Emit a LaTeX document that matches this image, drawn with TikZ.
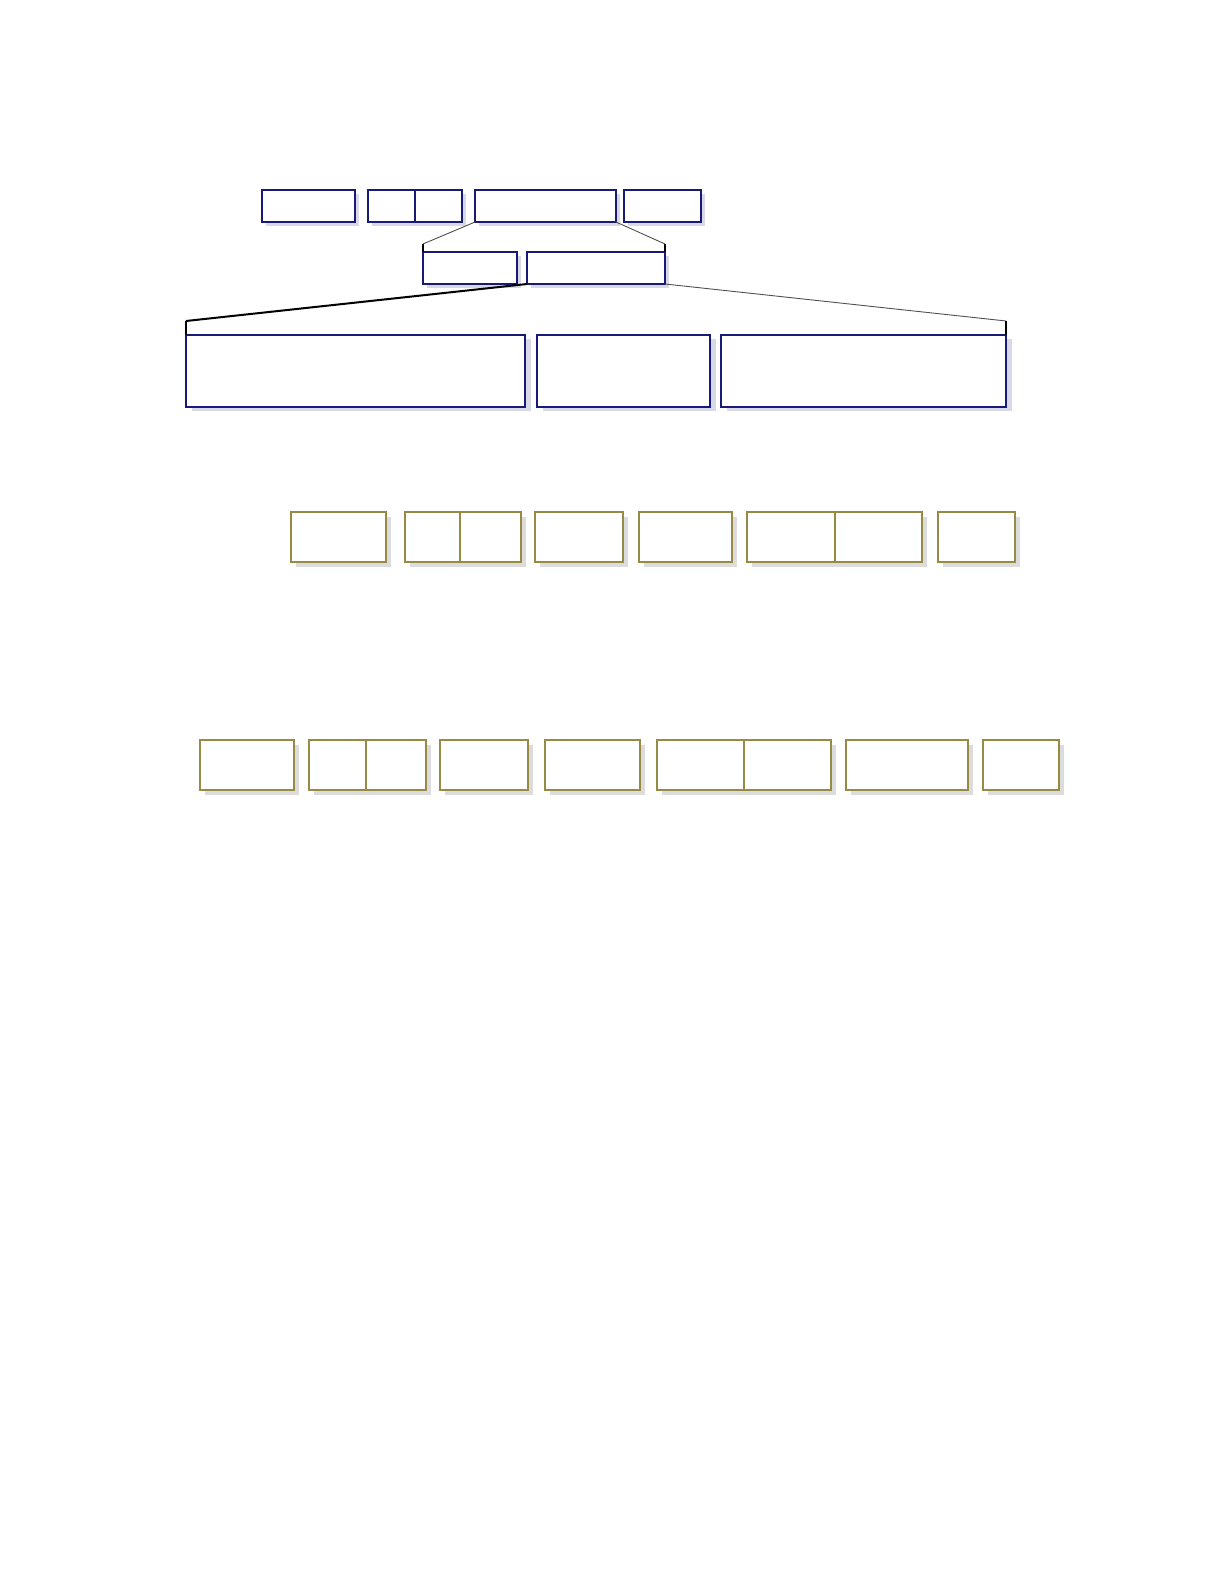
\documentclass[tikz,border=0pt]{standalone}
\usetikzlibrary{shadows}
\definecolor{navybox}{RGB}{25,25,120}
\definecolor{olivebox}{RGB}{150,138,68}
\definecolor{lavshadow}{RGB}{216,216,230}
\definecolor{greyshadow}{RGB}{220,220,220}
\definecolor{thinline}{RGB}{80,80,80}
\newcommand{\bx}[6]{%
  \node[#1, minimum width={(#5-#3)*0.5pt}, minimum height={(#6-#4)*0.5pt}]
    (#2) at ({(#3+#5)/2},{(#4+#6)/2}) {};}
\tikzset{
  basebox/.style={rectangle, inner sep=0pt, outer sep=0pt, fill=white},
  navyrect/.style={basebox, draw=navybox, line width=0.75pt,
    general shadow={fill=lavshadow, shadow xshift=1.8pt, shadow yshift=-1.8pt}},
  navybig/.style={basebox, draw=navybox, line width=0.75pt,
    general shadow={fill=lavshadow, shadow xshift=2.8pt, shadow yshift=-2pt}},
  oliverect/.style={basebox, draw=olivebox, line width=0.85pt,
    general shadow={fill=greyshadow, shadow xshift=2.4pt, shadow yshift=-2.4pt}},
  thinlink/.style={draw=thinline, line width=0.45pt},
  thicklink/.style={draw=black, line width=1pt},
  stub/.style={draw=black, line width=0.6pt}
}
\begin{document}
\begin{tikzpicture}[x=0.5pt,y=-0.5pt]
\useasboundingbox[fill=white] (0,0) rectangle (1224,1584);

% row 1
\bx{navyrect}{A}{262}{190}{355}{222}
\bx{navyrect}{B1}{368}{190}{415}{222}
\bx{navyrect}{B2}{415}{190}{462}{222}
\bx{navyrect}{C}{475}{190}{616}{222}
\bx{navyrect}{D}{624}{190}{701}{222}

% row 2
\bx{navyrect}{E}{423}{252}{517}{284}
\bx{navyrect}{F}{527}{252}{665}{284}

\coordinate (t1) at (423,244);
\coordinate (t2) at (665,244);
\draw[thinlink] (C.south west) -- (t1);
\draw[thinlink] (C.south east) -- (t2);
\draw[stub] (t1) -- (E.north west);
\draw[stub] (t2) -- (F.north east);

% row 3
\bx{navybig}{G}{186}{335}{525}{407}
\bx{navybig}{H}{537}{335}{710}{407}
\bx{navybig}{I}{721}{335}{1006}{407}

\coordinate (b1) at (186,321);
\coordinate (b2) at (1006,321);
\draw[thicklink] (F.south west) -- (b1);
\draw[thinlink] (F.south east) -- (b2);
\draw[stub] (b1) -- (G.north west);
\draw[stub] (b2) -- (I.north east);

% row 4
\bx{oliverect}{J}{291}{512}{386}{562}
\bx{oliverect}{K1}{405}{512}{460}{562}
\bx{oliverect}{K2}{460}{512}{521}{562}
\bx{oliverect}{L}{535}{512}{623}{562}
\bx{oliverect}{M}{639}{512}{732}{562}
\bx{oliverect}{N1}{747}{512}{835}{562}
\bx{oliverect}{N2}{835}{512}{922}{562}
\bx{oliverect}{O}{938}{512}{1015}{562}

% row 5
\bx{oliverect}{P}{200}{740}{294}{790}
\bx{oliverect}{Q1}{309}{740}{366}{790}
\bx{oliverect}{Q2}{366}{740}{426}{790}
\bx{oliverect}{R}{440}{740}{528}{790}
\bx{oliverect}{S}{545}{740}{640}{790}
\bx{oliverect}{T1}{657}{740}{744}{790}
\bx{oliverect}{T2}{744}{740}{831}{790}
\bx{oliverect}{U}{846}{740}{968}{790}
\bx{oliverect}{V}{983}{740}{1059}{790}
\end{tikzpicture}
\end{document}
